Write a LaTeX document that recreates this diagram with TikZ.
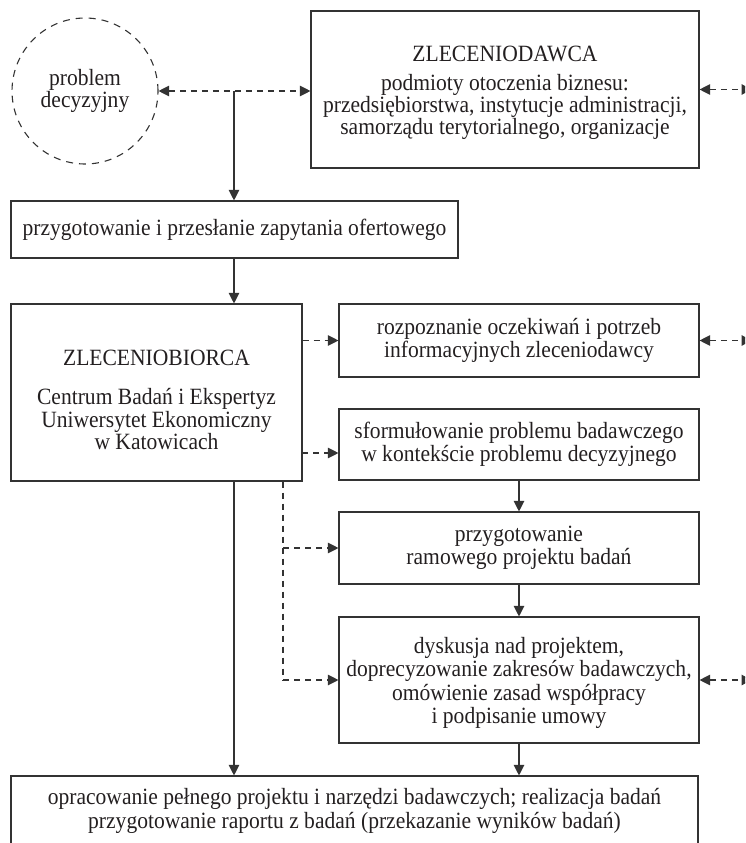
\documentclass[tikz,border=0pt]{standalone}
\usepackage{fontspec}
\setmainfont{Liberation Serif}[FakeStretch=0.925]
\usetikzlibrary{arrows.meta}
\definecolor{ink}{HTML}{231F20}
\definecolor{rule}{HTML}{333333}
\begin{document}
\begin{tikzpicture}[x=1pt,y=-1pt,
  txtfont/.style={font=\fontsize{23.3}{23.5}\selectfont},
  box/.style={draw=rule, line width=1.1pt, inner sep=0pt, align=center,
    text=ink, txtfont, rectangle},
  label text/.style={inner sep=0pt, align=center, text=ink, txtfont},
  tip/.style={-{Triangle[length=10.5pt,width=10.5pt]}},
  twotips/.style={{Triangle[length=10.5pt,width=10.5pt]}-{Triangle[length=10.5pt,width=10.5pt]}},
  dsh/.style={dash pattern=on 6pt off 5pt},
  conn/.style={draw=rule, line width=1.1pt}]
\useasboundingbox (0,0) rectangle (745,843);
\clip (0,0) rectangle (745,843);

% decision problem
\node[circle, draw=rule, line width=1.1pt, dash pattern=on 7pt off 6pt,
  minimum size=146pt, inner sep=0pt, align=center, text=ink,
  font=\fontsize{23.3}{20}\selectfont] (prob) at (85,91) {problem\\decyzyjny};

% client
\node[box, minimum width=388pt, minimum height=157pt] (zd) at (505,89.5) {};
\node[label text, font=\fontsize{23.3}{20.5}\selectfont] (zdtxt) at (505,93)
  {ZLECENIODAWCA\\[8pt]
   podmioty otoczenia biznesu:\\
   przedsiębiorstwa, instytucje administracji,\\
   samorządu terytorialnego, organizacje};

% request for proposal
\node[box, minimum width=447pt, minimum height=57pt] (zap) at (234.5,229.5)
  {przygotowanie i przesłanie zapytania ofertowego};

% contractor
\node[box, minimum width=291pt, minimum height=177pt] (zb) at (156.5,392.5) {};
\node[label text, font=\fontsize{23.3}{22.5}\selectfont] (zbtxt) at (156.5,400)
  {ZLECENIOBIORCA\\[17pt]
   Centrum Badań i Ekspertyz\\
   Uniwersytet Ekonomiczny\\
   w Katowicach};

% right-hand column of steps
\node[box, minimum width=360pt, minimum height=73pt] (rozp) at (519,340.5)
  {rozpoznanie oczekiwań i potrzeb\\informacyjnych zleceniodawcy};
\node[box, minimum width=360pt, minimum height=71pt] (sform) at (519,444.5)
  {sformułowanie problemu badawczego\\w kontekście problemu decyzyjnego};
\node[box, minimum width=360pt, minimum height=72pt] (ram) at (519,548)
  {przygotowanie\\ramowego projektu badań};
\node[box, minimum width=360pt, minimum height=126pt] (dysk) at (519,680) {};
\node[label text] (dysktxt) at (519,683)
  {dyskusja nad projektem,\\
   doprecyzowanie zakresów badawczych,\\
   omówienie zasad współpracy\\
   i podpisanie umowy};

% final stage
\node[box, minimum width=687pt, minimum height=70pt] (bot) at (354.5,811)
  {opracowanie pełnego projektu i narzędzi badawczych; realizacja badań\\
   przygotowanie raportu z badań (przekazanie wyników badań)};

% helper coordinates
\coordinate (main) at (234,91);
\coordinate (side) at (283,0);
\coordinate (sf) at (302,453);
\coordinate (edge) at (752,0);

% dashed links
\draw[conn, dsh, twotips] (prob.east) -- (prob.east -| zd.west);
\draw[conn, dsh, tip] (zb.east |- rozp.west) -- (rozp.west);
\draw[conn, dsh, tip] (sf) -- (sf -| sform.west);
\draw[conn, dsh] (side |- zb.south) -- (side |- dysk.west);
\draw[conn, dsh, tip] (side |- ram.west) -- (ram.west);
\draw[conn, dsh, tip] (side |- dysk.west) -- (dysk.west);
\draw[conn, dsh, twotips] (zd.east) -- (zd.east -| edge);
\draw[conn, dsh, twotips] (rozp.east) -- (rozp.east -| edge);
\draw[conn, dsh, twotips] (dysk.east) -- (dysk.east -| edge);

% solid flow
\draw[conn, tip] (main) -- (main |- zap.north);
\draw[conn, tip] (main |- zap.south) -- (main |- zb.north);
\draw[conn, tip] (main |- zb.south) -- (main |- bot.north);
\draw[conn, tip] (sform.south) -- (ram.north);
\draw[conn, tip] (ram.south) -- (dysk.north);
\draw[conn, tip] (dysk.south) -- (dysk.south |- bot.north);
\end{tikzpicture}
\end{document}
